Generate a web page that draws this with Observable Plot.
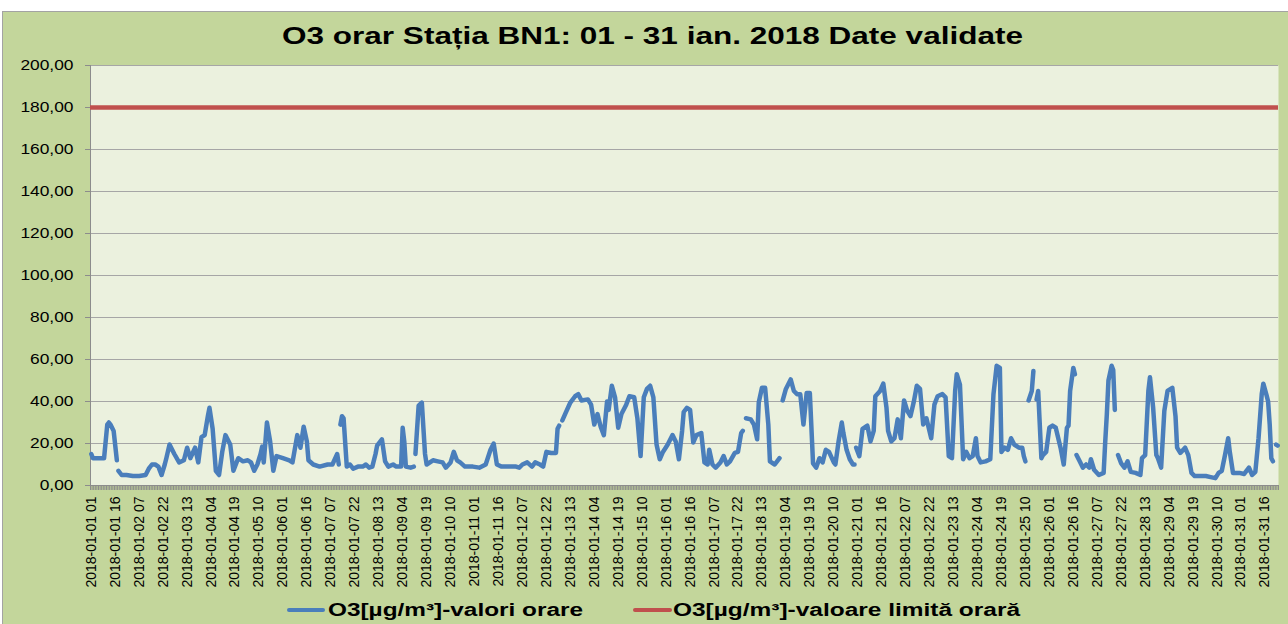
<!DOCTYPE html>
<html>
<head>
<meta charset="utf-8">
<script src="https://cdn.jsdelivr.net/npm/d3@7"></script>
<script src="https://cdn.jsdelivr.net/npm/@observablehq/plot@0.6"></script>
<style>
  body { margin: 0; background: #ffffff; font-family: "Liberation Sans", Arial, sans-serif; }
  #frame { position: absolute; left: 2px; top: 11px; width: 1286px; height: 613px; box-sizing: border-box;
           background: #c3d69b; border-top: 1px solid #a3a3a3; border-left: 1px solid #a3a3a3; overflow: hidden; }
  .fit { position: absolute; display: inline-block; white-space: nowrap; transform-origin: left center; color: #000; font-weight: bold; }
  #title { font-size: 23px; line-height: 23px; }
  .legtext { font-size: 18px; line-height: 18px; }
  .swatch { position: absolute; height: 4px; border-radius: 2px; }
  #chart { position: absolute; left: 0; top: 43px; }
</style>
</head>
<body>
<div id="frame">
  <div id="title" class="fit"></div>
  <div id="chart"></div>
  <div id="sw1" class="swatch"></div>
  <div id="lt1" class="fit legtext"></div>
  <div id="sw2" class="swatch"></div>
  <div id="lt2" class="fit legtext"></div>
</div>
<script>
// ---------------- data ----------------
const titleText = "O3 orar Stația BN1: 01 - 31 ian. 2018 Date validate";
const seriesNames = ["O3[µg/m³]-valori orare", "O3[µg/m³]-valoare limită orară"];
const seriesColors = ["#4a7ebb", "#c0504d"];
const nHours = 744;
const limitValue = [180];
const yTicks = [0, 20, 40, 60, 80, 100, 120, 140, 160, 180, 200];
const tickLabels = ["2018-01-01 01","2018-01-01 16","2018-01-02 07","2018-01-02 22","2018-01-03 13","2018-01-04 04","2018-01-04 19","2018-01-05 10","2018-01-06 01","2018-01-06 16","2018-01-07 07","2018-01-07 22","2018-01-08 13","2018-01-09 04","2018-01-09 19","2018-01-10 10","2018-01-11 01","2018-01-11 16","2018-01-12 07","2018-01-12 22","2018-01-13 13","2018-01-14 04","2018-01-14 19","2018-01-15 10","2018-01-16 01","2018-01-16 16","2018-01-17 07","2018-01-17 22","2018-01-18 13","2018-01-19 04","2018-01-19 19","2018-01-20 10","2018-01-21 01","2018-01-21 16","2018-01-22 07","2018-01-22 22","2018-01-23 13","2018-01-24 04","2018-01-24 19","2018-01-25 10","2018-01-26 01","2018-01-26 16","2018-01-27 07","2018-01-27 22","2018-01-28 13","2018-01-29 04","2018-01-29 19","2018-01-30 10","2018-01-31 01","2018-01-31 16"];
const labelEvery = 15;
// [hour index since 2018-01-01 01, O3 µg/m³]; [null,null] = missing hours (gap)
const o3Readings = [
[0,15],[1,13],[3,13],[5,13],[8,13],[10,29],[11,30],[12,29],[14,26],[16,12],[null,null],
[17,7],[19,5],[22,5],[26,4.5],[30,4.5],[34,5],[36,8],[38,10],[40,10],[42,9],[44,5],[46,10],[47,13],[49,19.5],[52,15],[55,11],[58,12],[60,18],[62,13],[65,18],[67,11],[69,23],[71,24],[73,33],[74,37],[76,27],[78,7],[80,5],[82,16],[84,24],[87,19.5],[89,7],[92,13],[95,11.5],[98,12],[100,11],[102,7],[104,10],[106,15],[107,18.5],[108,11],[110,30],[112,21],[114,7],[116,14],[120,13],[124,12],[126,11],[129,24],[131,18],[133,28],[135,21],[136,12],[139,10],[143,9],[148,10],[151,10],[154,15],[155,10],[null,null],
[156,29],[157,33],[158,32],[160,9],[162,10],[164,8],[167,9],[170,9],[172,10],[174,8.5],[176,9],[178,15],[179,19],[182,22],[184,11.5],[186,9],[189,10],[191,9],[194,9],[195,27.5],[196,21],[197,9],[200,8.5],[202,9],[null,null],
[203,15],[205,38],[207,39.5],[209,15],[210,10],[214,12],[217,11.5],[220,11],[222,8.5],[225,11],[227,16],[229,12],[231,11],[234,9],[239,9],[243,8.5],[247,10],[250,17],[252,20],[254,10],[257,9],[261,9],[266,9],[268,8.5],[270,10],[273,11],[276,9],[278,11],[281,10],[283,9],[285,16],[288,15.5],[291,15.5],[292,27],[293,28.5],[null,null],
[295,31],[297,34.5],[300,39.5],[303,42.5],[305,43.5],[307,40.5],[311,41],[313,38.5],[315,29],[317,34],[319,28],[321,24],[323,40],[324,36],[326,47.5],[328,42],[330,27.5],[332,34],[335,38.5],[337,42.5],[340,42],[342,32],[344,14],[346,42],[348,46],[350,47.5],[352,42],[354,19.5],[356,12.5],[358,16],[361,19.5],[364,24],[366,21],[368,12.5],[370,26],[371,35],[373,37],[375,36],[377,20.5],[379,24],[382,25],[384,11],[386,10],[387,17],[389,10],[391,8.5],[394,11],[396,14],[398,10],[400,11.5],[403,15.5],[405,16],[407,25],[408,26],[null,null],
[410,32],[413,31.5],[415,29],[417,22],[418,39.5],[420,46.5],[422,46.5],[424,29],[425,11.5],[428,10],[431,13],[null,null],
[433,40.5],[435,46],[438,50.5],[440,45],[442,43.5],[444,43.5],[446,29],[448,44],[450,44],[452,10.5],[454,8.5],[456,13],[458,11],[460,17],[462,16],[465,11],[466,10],[468,21],[470,30],[471,25],[473,17],[475,12.5],[477,10],[478,10],[null,null],
[479,18],[481,14],[483,27],[486,28.5],[488,21],[490,26],[491,42.5],[494,45],[496,48.5],[498,37],[499,26],[501,21],[503,22.5],[505,31.5],[507,22.5],[509,40.5],[511,35.5],[513,33],[515,39.5],[517,47.5],[519,46],[521,29],[523,32],[526,22.5],[528,38.5],[530,42.5],[533,43.5],[535,42],[537,14],[539,13],[541,45],[542,53],[544,48],[546,12.5],[548,16],[550,13],[552,14],[554,22.5],[555,14],[557,11],[560,11.5],[563,12.5],[565,43.5],[567,57],[569,56],[570,16],[572,18],[574,17],[576,22.5],[578,19.5],[581,18],[583,18],[584,14],[585,11.5],[null,null],
[587,40.5],[589,45],[590,54.5],[null,null],
[592,41],[593,45],[595,13],[596,14.5],[598,16],[600,27.5],[602,28.5],[604,27.5],[607,18],[609,10],[611,27.5],[612,28.5],[613,45],[615,56],[616,53],[null,null],
[617,14.5],[619,11.5],[621,8.5],[623,10],[625,8.5],[626,12.5],[628,7.5],[631,5],[634,6],[635,21],[636,34],[637,50],[639,57],[640,55],[641,36],[null,null],
[643,14.5],[645,10.5],[647,8.5],[649,11.5],[651,6.5],[654,6],[657,5],[658,13],[660,14.5],[662,45],[663,51.5],[665,37],[667,14.5],[668,13],[670,8.5],[672,35.5],[674,45],[677,46.5],[679,33],[680,18],[682,15.5],[685,18],[687,14.5],[689,6],[691,4.5],[694,4.5],[698,4.5],[701,4],[704,3.5],[706,6],[708,7],[710,14.5],[712,22.5],[713,16],[715,6],[719,6],[722,5.5],[725,8.5],[727,5],[729,6.5],[731,22.5],[733,43.5],[734,48.5],[736,43],[737,40],[738,29],[739,13],[740,11.5],[null,null],
[742,19.5],[743,19]
];

// ---------------- chart ----------------
const fmt = d => d.toFixed(2).replace(".", ",");
const labelTicks = tickLabels.map((_, k) => k * labelEvery);
const hourEdges = d3.range(0, nHours + 1).map(i => i - 0.5);

const chart = Plot.plot({
  width: 1285,
  height: 543,
  marginLeft: 87,
  marginRight: 10,
  marginTop: 10,
  marginBottom: 113,
  style: { background: "transparent", fontFamily: "'Liberation Sans', Arial, sans-serif", color: "#000" },
  x: { domain: [-0.5, nHours - 0.5] },
  y: { domain: [0, 200] },
  marks: [
    Plot.frame({ fill: "#ebf1de", stroke: null }),
    Plot.gridY(yTicks, { stroke: "#a6a6a6", strokeOpacity: 1, strokeWidth: 1.2 }),
    Plot.ruleX([-0.5], { stroke: "#8c8c8c" }),
    Plot.axisY(yTicks, { tickSize: 5, tickPadding: 12, tickFormat: fmt, fontSize: 14, stroke: "#8c8c8c", fill: "#000", label: null }),
    Plot.axisX(hourEdges, { tickSize: 5, tickFormat: () => "", stroke: "#8c8c8c", label: null }),
    Plot.axisX(labelTicks, { tickSize: 0, tickPadding: 11, tickRotate: -90, fontSize: 14, fill: "#000",
      tickFormat: (d) => tickLabels[Math.round(d / labelEvery)], label: null }),
    Plot.ruleY([0], { stroke: "#8c8c8c" }),
    Plot.ruleY(limitValue, { stroke: seriesColors[1], strokeWidth: 4.5 }),
    Plot.line(o3Readings, { x: d => d[0], y: d => d[1], stroke: seriesColors[0], strokeWidth: 4.5,
      strokeLinejoin: "round", strokeLinecap: "round" })
  ]
});
document.getElementById("chart").appendChild(chart);

// widen the y tick labels like the source
chart.querySelectorAll('g[aria-label="y-axis tick label"] text').forEach(t => {
  const w = t.getComputedTextLength();
  t.setAttribute("textLength", (w * 1.24).toFixed(1));
  t.setAttribute("lengthAdjust", "spacingAndGlyphs");
});

// ---------------- title & legend ----------------
function place(el, text, left, top, targetWidth) {
  el.textContent = text;
  el.style.left = left + "px";
  el.style.top = top + "px";
  const w = el.getBoundingClientRect().width;
  el.style.transform = `scaleX(${targetWidth / w})`;
}
place(document.getElementById("title"), titleText, 279, 12.7, 741);
place(document.getElementById("lt1"), seriesNames[0], 325, 588.6, 255);
place(document.getElementById("lt2"), seriesNames[1], 670, 588.6, 347);
const sw1 = document.getElementById("sw1");
sw1.style.left = "284px"; sw1.style.top = "596px"; sw1.style.width = "38px"; sw1.style.background = seriesColors[0];
const sw2 = document.getElementById("sw2");
sw2.style.left = "630px"; sw2.style.top = "596px"; sw2.style.width = "39px"; sw2.style.background = seriesColors[1];
</script>
</body>
</html>
